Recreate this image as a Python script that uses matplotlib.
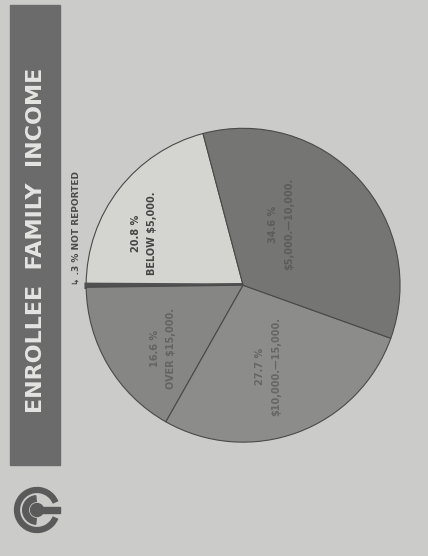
import numpy as np
from matplotlib import pyplot as plt
from matplotlib import patches

# Data
labels = ["BELOW $5,000.", "NOT REPORTED", "OVER $15,000.", "$10,000.\u201415,000.", "$5,000.\u201410,000."]
shares = [20.8, 0.3, 16.6, 27.7, 34.6]
pct_text = ["20.8 %", ".3 %", "16.6 %", "27.7 %", "34.6 %"]
colors = ["#d4d4d1", "#505050", "#868684", "#8c8c8a", "#757573"]

plt.rcParams['font.family'] = ['Liberation Sans Narrow', 'DejaVu Sans']

fig = plt.figure(figsize=(4.28, 5.56), dpi=100)
fig.patch.set_facecolor("#cbcbc9")

# Pie (the page is turned on its side, so text runs bottom to top)
ax = fig.add_axes([0.194, 0.199, 0.748, 0.576])
wedges, _ = ax.pie(shares, colors=colors, startangle=104.8, counterclock=True,
                   wedgeprops=dict(edgecolor="#4a4a4a", linewidth=0.8))
wedges[1].set_linewidth(2.5)
wedges[1].set_edgecolor("#505050")
ax.set_xlim(-1.02, 1.02)
ax.set_ylim(-1.02, 1.02)
ax.set_aspect("equal")
ax.axis("off")

# Labels inside the slices
label_pos = {0: (-0.63, 0.33), 2: (-0.51, -0.40), 3: (0.16, -0.52), 4: (0.24, 0.39)}
label_col = {0: "#454545", 2: "#646462", 3: "#666664", 4: "#5c5c5a"}
for i, (x, y) in label_pos.items():
    ax.text(x, y, pct_text[i] + "\n" + labels[i], rotation=90, ha="center", va="center",
            fontsize=7, fontweight="bold", color=label_col[i], linespacing=1.8)

# Title bar
fig.patches.append(patches.Rectangle((10 / 428, 1 - 465 / 556), 50 / 428, 460 / 556,
                                     transform=fig.transFigure, color="#6b6b6b"))
fig.text(36 / 428, 1 - 240 / 556, "ENROLLEE  FAMILY  INCOME", rotation=90,
         ha="center", va="center", fontsize=16, fontweight="bold", color="#e4e4e2")

# Not reported note
fig.text(76 / 428, 1 - 228 / 556, "\u21b3 " + pct_text[1] + " " + labels[1], rotation=90,
         ha="center", va="center", fontsize=6.5, fontweight="bold", color="#4a4a4a")

# Logo
lax = fig.add_axes([11 / 428, 1 - 536 / 556, 52 / 428, 52 / 556])
lax.set_xlim(-1.2, 1.2)
lax.set_ylim(-1.2, 1.2)
lax.set_aspect("equal")
lax.axis("off")
lax.add_patch(patches.Arc((0, 0), 1.85, 1.85, theta1=22, theta2=338, lw=4.5, color="#5a5a5a"))
lax.add_patch(patches.Wedge((0, 0), 0.66, 95, 265, width=0.26, color="#5a5a5a"))
lax.add_patch(patches.Circle((0, 0), 0.3, color="#5a5a5a"))
lax.add_patch(patches.Rectangle((0, -0.12), 1.05, 0.24, color="#5a5a5a"))

fig.savefig("out.png", dpi=100, facecolor=fig.get_facecolor())
